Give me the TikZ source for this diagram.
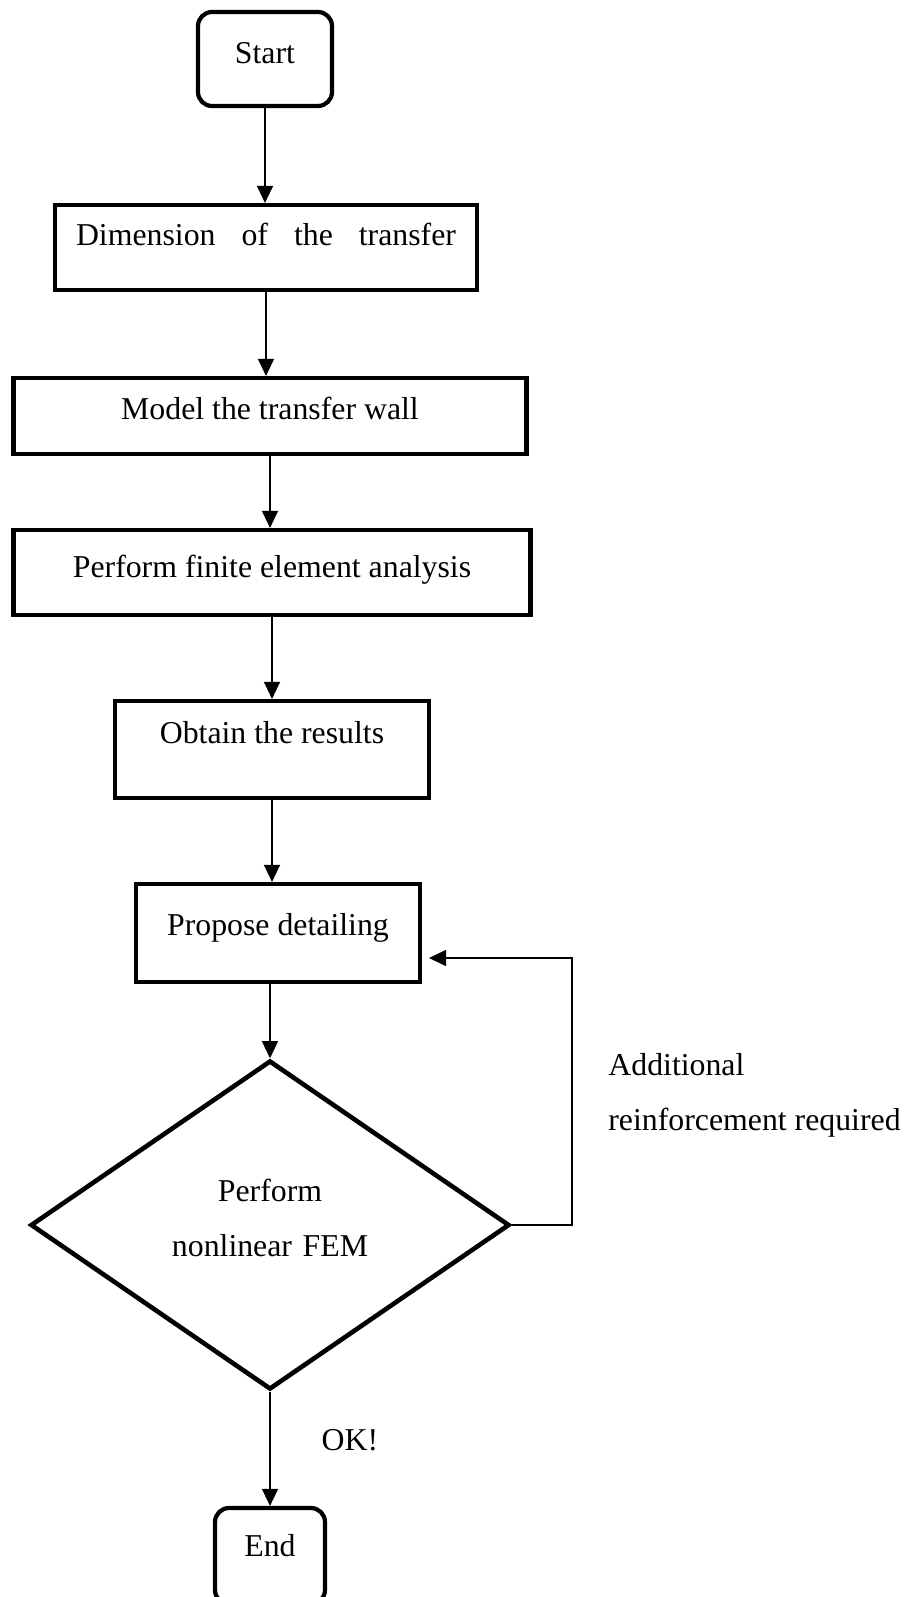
\documentclass[tikz,border=0pt]{standalone}
\usepackage{fontspec}
\setmainfont{Liberation Serif}
\usepackage{tikz}
\usetikzlibrary{shapes.geometric,arrows.meta}

\tikzset{
  flowfont/.style={font=\fontsize{15.9pt}{27.5pt}\selectfont},
  proc/.style={draw, rectangle, line width=2.1pt, inner sep=0pt, anchor=base, flowfont},
  term/.style={proc, rounded corners=7pt},
  decision/.style={draw, diamond, line width=2.3pt, inner sep=0pt, flowfont, aspect=1.456, text width=110pt, align=center},
  flow/.style={line width=0.65pt, -{Triangle[length=8.5pt,width=8pt]}},
  note/.style={flowfont, inner sep=0pt},
}

\begin{document}
\begin{tikzpicture}[x=0.5pt, y=-0.5pt]
\useasboundingbox (0,0) rectangle (907,1597);
\clip (0,0) rectangle (907,1597);

%% flow chart boxes
\node[term, minimum width=67pt, text height=25.5pt, text depth=21.5pt] (start) at (265,63) {Start};
\node[proc, minimum width=211pt, text height=20pt, text depth=22.5pt] (dim) at (266,245) {\makebox[190pt][s]{Dimension of the transfer}};
\node[proc, minimum width=256.5pt, text height=20.5pt, text depth=17.5pt] (model) at (270,419) {Model the transfer wall};
\node[proc, minimum width=258.5pt, text height=23.5pt, text depth=19pt] (fea) at (272,577) {Perform finite element analysis};
\node[proc, minimum width=157pt, text height=21pt, text depth=27.5pt] (result) at (272,743) {Obtain the results};
\node[proc, minimum width=142pt, text height=25.5pt, text depth=23.5pt] (propose) at (278,935) {Propose detailing};

\node[decision, minimum width=239.5pt, minimum height=164.5pt, text height=10pt, text depth=34pt] (check) at (270,1225) {Perform\\nonlinear FEM};

\node[term, minimum width=55pt, text height=24pt, text depth=24pt] (finish) at (270,1556) {End};

%% labels
\node[note, align=left, anchor=base west] (more) at (608,1130) {Additional\\reinforcement required};
\node[note, anchor=base] (ok) at (350,1450) {OK!};

%% loop back
\coordinate (loop) at (572,958);
\coordinate (back) at (429,958);

\draw[flow] (start.south) -- (start.south |- dim.north);
\draw[flow] (dim.south) -- (dim.south |- model.north);
\draw[flow] (model.south) -- (model.south |- fea.north);
\draw[flow] (fea.south) -- (fea.south |- result.north);
\draw[flow] (result.south) -- (result.south |- propose.north);
\draw[flow] (check.north |- propose.south) -- (check.north);
\draw[flow] (check.south) -- (check.south |- finish.north);

\draw[flow] (check.east) -| (loop) -- (back);

\end{tikzpicture}
\end{document}
